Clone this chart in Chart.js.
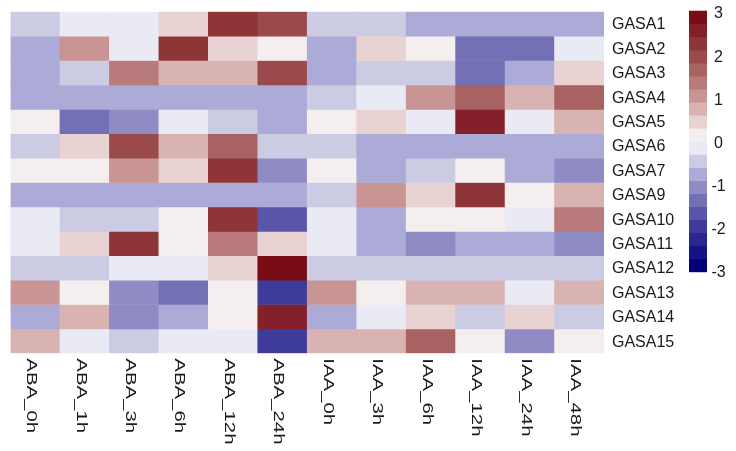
<!DOCTYPE html>
<html>
<head>
<meta charset="utf-8">
<script src="https://cdn.jsdelivr.net/npm/chart.js@4.4.1/dist/chart.umd.min.js"></script>
<style>
    body { margin: 0; background: #fff; }
    #wrap { position: relative; width: 736px; height: 451px; }
</style>
</head>
<body>
<div id="wrap"><canvas id="heatmap"></canvas></div>
<script>
// columns (treatments) and rows (genes)
const columns = ['ABA_0h', 'ABA_1h', 'ABA_3h', 'ABA_6h', 'ABA_12h', 'ABA_24h',
                 'IAA_0h', 'IAA_3h', 'IAA_6h', 'IAA_12h', 'IAA_24h', 'IAA_48h'];
const genes = ['GASA1', 'GASA2', 'GASA3', 'GASA4', 'GASA5', 'GASA6', 'GASA7',
               'GASA9', 'GASA10', 'GASA11', 'GASA12', 'GASA13', 'GASA14', 'GASA15'];

// scaled expression per gene
const gasa1  = [-0.5, -0.2, -0.2,  0.5,  2.3,  2.0, -0.5, -0.5, -0.8, -0.8, -0.8, -0.8];
const gasa2  = [-0.8,  1.1, -0.2,  2.3,  0.5,  0.1, -0.8,  0.5,  0.1, -1.4, -1.4, -0.2];
const gasa3  = [-0.8, -0.5,  1.4,  0.8,  0.8,  2.0, -0.8, -0.5, -0.5, -1.4, -0.8,  0.5];
const gasa4  = [-0.8, -0.8, -0.8, -0.8, -0.8, -0.8, -0.5, -0.2,  1.1,  1.7,  0.8,  1.7];
const gasa5  = [ 0.1, -1.4, -1.1, -0.2, -0.5, -0.8,  0.1,  0.5, -0.2,  2.6, -0.2,  0.8];
const gasa6  = [-0.5,  0.5,  2.0,  0.8,  1.7, -0.5, -0.5, -0.8, -0.8, -0.8, -0.8, -0.8];
const gasa7  = [ 0.1,  0.1,  1.1,  0.5,  2.3, -1.1,  0.1, -0.8, -0.5,  0.1, -0.8, -1.1];
const gasa9  = [-0.8, -0.8, -0.8, -0.8, -0.8, -0.8, -0.5,  1.1,  0.5,  2.3,  0.1,  0.8];
const gasa10 = [-0.2, -0.5, -0.5,  0.1,  2.3, -1.7, -0.2, -0.8,  0.1,  0.1, -0.2,  1.4];
const gasa11 = [-0.2,  0.5,  2.3,  0.1,  1.4,  0.5, -0.2, -0.8, -1.1, -0.8, -0.8, -1.1];
const gasa12 = [-0.5, -0.5, -0.2, -0.2,  0.5,  2.9, -0.5, -0.5, -0.5, -0.5, -0.5, -0.5];
const gasa13 = [ 1.1,  0.1, -1.1, -1.4,  0.1, -2.0,  1.1,  0.1,  0.8,  0.8, -0.2,  0.8];
const gasa14 = [-0.8,  0.8, -1.1, -0.8,  0.1,  2.6, -0.8, -0.2,  0.5, -0.5,  0.5, -0.5];
const gasa15 = [ 0.8, -0.2, -0.5, -0.2, -0.2, -2.0,  0.8,  0.8,  1.7,  0.1, -1.1,  0.1];
const rowValues = [gasa1, gasa2, gasa3, gasa4, gasa5, gasa6, gasa7,
                   gasa9, gasa10, gasa11, gasa12, gasa13, gasa14, gasa15];

// color key
const scaleMin = -3;
const scaleMax = 3;
const legendTicks = [3, 2, 1, 0, -1, -2, -3];
const heatColors = [
    '#05007a', '#171385', '#2b278f', '#3f3b9a', '#5a55a9',
    '#7370b5', '#8f8cc5', '#acaad6', '#cbcbe4', '#eaeaf4',
    '#f5eeee', '#e8d2d2', '#d8b3b2', '#c89594', '#b87a7a',
    '#a86262', '#9b4a4b', '#8e3538', '#84202a', '#7a0c16'
];

function colorFor(v) {
    const step = (scaleMax - scaleMin) / heatColors.length;
    let k = Math.floor((v - scaleMin) / step);
    k = Math.max(0, Math.min(heatColors.length - 1, k));
    return heatColors[k];
}

const FONT = '"Liberation Sans", Arial, sans-serif';

// row labels, column labels and color key
const labelPlugin = {
    id: 'heatLabels',
    afterDraw(chart) {
        const ctx = chart.ctx;
        const area = chart.chartArea;
        const xs = chart.scales.x;
        const ys = chart.scales.y;
        ctx.save();
        ctx.fillStyle = '#1a1a1a';

        // gene names
        ctx.font = '16px ' + FONT;
        ctx.textAlign = 'left';
        ctx.textBaseline = 'middle';
        genes.forEach((g, i) => {
            ctx.fillText(g, area.right + 8, ys.getPixelForValue(i + 0.5) + 1);
        });

        // treatment names, rotated clockwise
        ctx.font = '15px ' + FONT;
        columns.forEach((c, j) => {
            const x = xs.getPixelForValue(j) - 4;
            ctx.save();
            ctx.translate(x, area.bottom + 5);
            ctx.rotate(Math.PI / 2);
            ctx.scale(1.36, 1);
            ctx.fillText(c, 0, 0);
            ctx.restore();
        });

        // color key
        const kx = 689, kw = 18, ktop = 10.7, kbottom = 271.7;
        const bh = (kbottom - ktop) / heatColors.length;
        heatColors.forEach((col, k) => {
            ctx.fillStyle = col;
            ctx.fillRect(kx, kbottom - (k + 1) * bh, kw, bh + 0.5);
        });
        ctx.fillStyle = '#1a1a1a';
        ctx.font = '16px ' + FONT;
        ctx.textAlign = 'center';
        legendTicks.forEach(t => {
            const y = 14 + (scaleMax - t) * (273 - 14) / (scaleMax - scaleMin);
            ctx.fillText(String(t), 718.5, y);
        });
        ctx.restore();
    }
};

const datasets = genes.map((g, i) => ({
    label: g,
    data: columns.map(() => [i, i + 1]),
    backgroundColor: rowValues[i].map(colorFor),
    borderWidth: 0,
    barPercentage: 1,
    categoryPercentage: 1,
    grouped: false
}));

new Chart(document.getElementById('heatmap'), {
    type: 'bar',
    data: { labels: columns, datasets: datasets },
    options: {
        responsive: true,
        maintainAspectRatio: false,
        animation: false,
        layout: { padding: { left: 10.5, right: 132, top: 11.7, bottom: 97.7 } },
        plugins: {
            legend: { display: false },
            tooltip: { enabled: false }
        },
        scales: {
            x: { display: false, offset: true },
            y: { display: false, min: 0, max: genes.length, reverse: true }
        }
    },
    plugins: [labelPlugin]
});
</script>
</body>
</html>
